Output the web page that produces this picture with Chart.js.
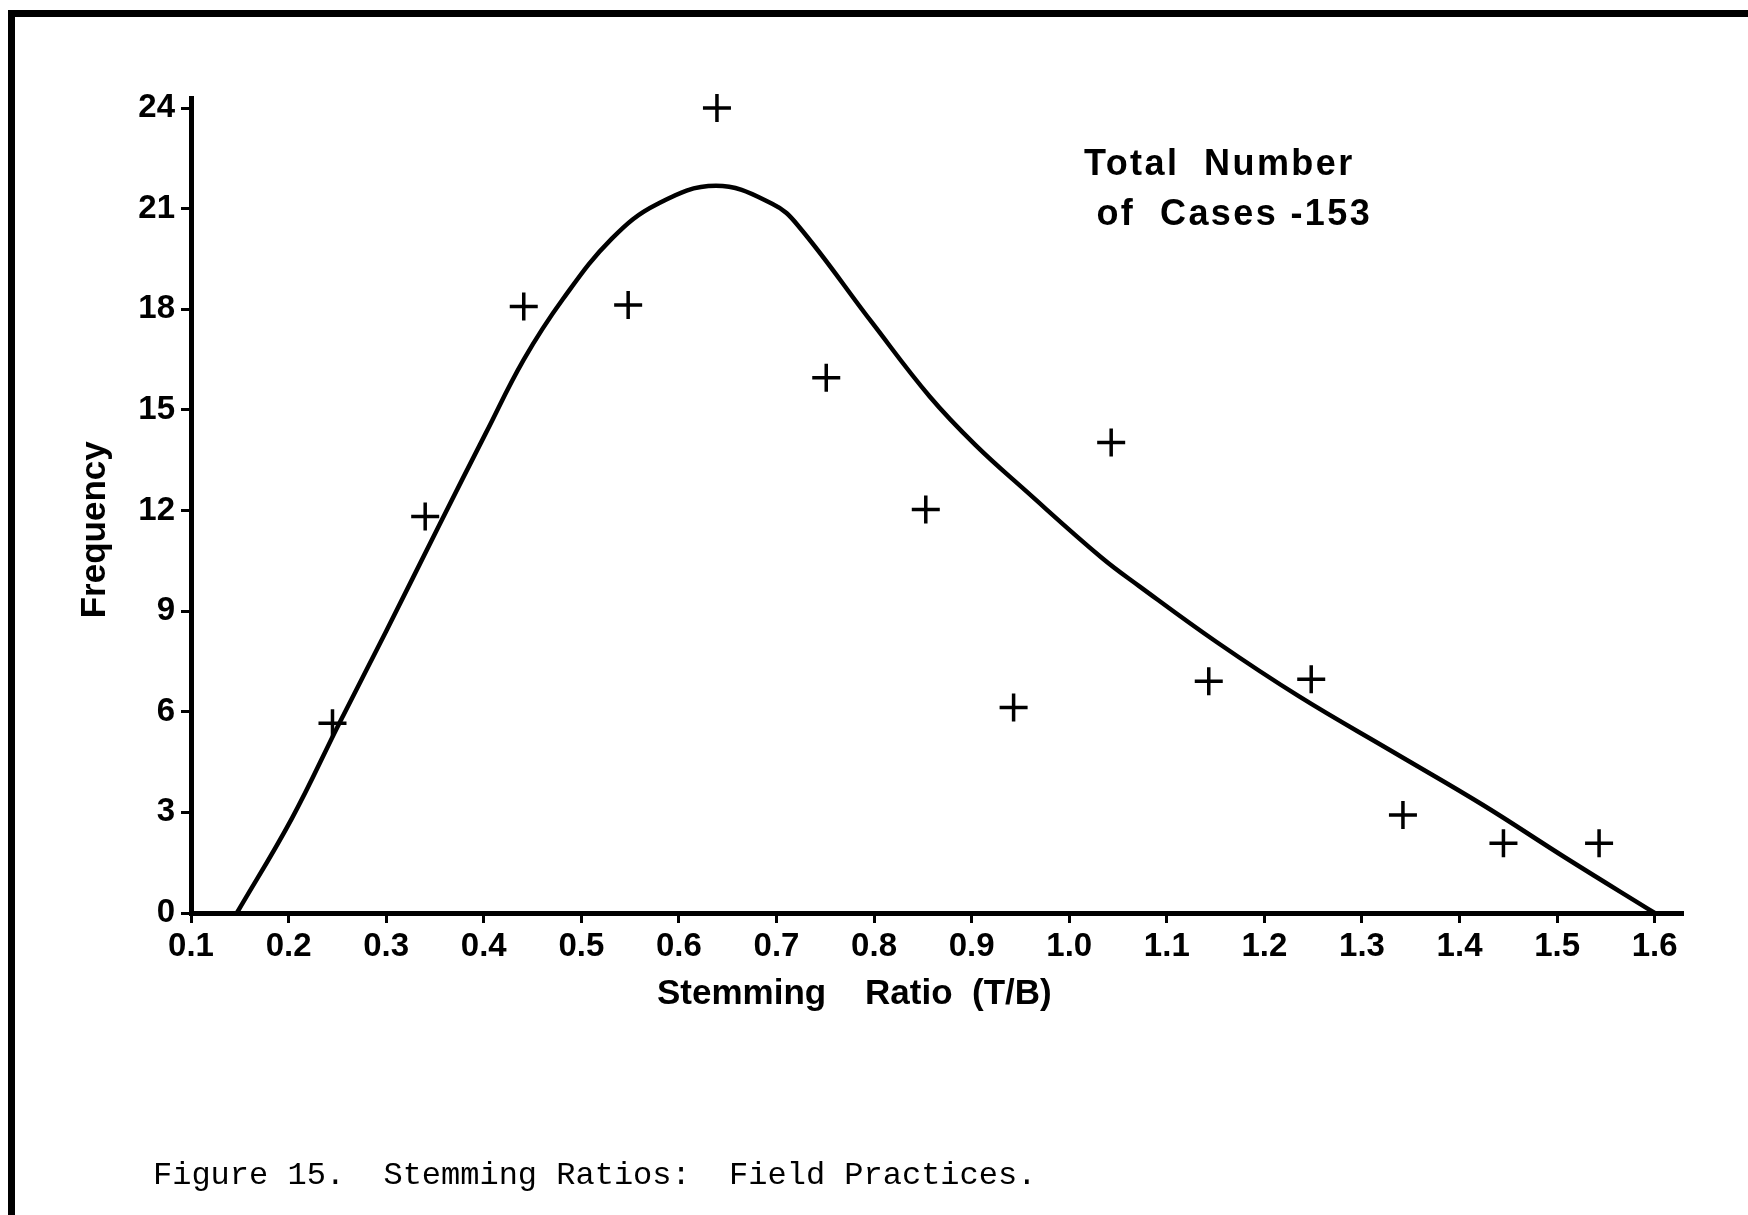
<!DOCTYPE html>
<html>
<head>
<meta charset="utf-8">
<title>Figure 15. Stemming Ratios: Field Practices.</title>
<script src="https://cdn.jsdelivr.net/npm/chart.js@4.4.1/dist/chart.umd.min.js"></script>
<style>
    html, body { margin: 0; padding: 0; background: #fff; }
    #page { position: relative; width: 1748px; height: 1215px; overflow: hidden; background: #fff; }
    #frame { position: absolute; left: 8px; top: 10px; right: -20px; bottom: -20px; border-left: 7px solid #000; border-top: 7px solid #000; }
    #chart { position: absolute; left: 0; top: 0; }
    #note { position: absolute; left: 1084px; top: 138px; font: bold 36px "Liberation Sans", Arial, sans-serif; line-height: 50px; letter-spacing: 2.4px; white-space: pre; color: #000; }
    #caption { position: absolute; left: 153px; top: 1156px; font: 32px "Liberation Mono", "DejaVu Sans Mono", monospace; line-height: 40px; white-space: pre; color: #000; }
</style>
</head>
<body>
<div id="page">
    <div id="frame"></div>
    <canvas id="chart" width="1748" height="1215"></canvas>
    <div id="note">Total  Number
 of  Cases -153</div>
    <div id="caption">Figure 15.  Stemming Ratios:  Field Practices.</div>
</div>
<script>
/**
 *  Data
 */
var ratio_points = [0.245, 0.340, 0.441, 0.548, 0.639, 0.751, 0.853, 0.943, 1.043, 1.143, 1.248, 1.342, 1.445, 1.543];
var frequency_points = [5.66, 11.82, 18.08, 18.13, 24.0, 15.96, 12.03, 6.13, 14.03, 6.91, 6.97, 2.92, 2.08, 2.08];

var curve_ratio = [0.147, 0.203, 0.252, 0.300, 0.355, 0.402, 0.441, 0.481, 0.531, 0.578, 0.638, 0.696, 0.722, 0.798, 0.857, 0.904, 0.955, 1.033, 1.072, 1.151, 1.236, 1.332, 1.424, 1.509, 1.600];
var curve_frequency = [0, 2.8, 5.66, 8.4, 11.6, 14.3, 16.5, 18.3, 20.1, 21.14, 21.68, 21.14, 20.5, 17.6, 15.4, 13.95, 12.6, 10.6, 9.74, 8.08, 6.45, 4.8, 3.22, 1.64, 0];

var x_ticks = [0.1, 0.2, 0.3, 0.4, 0.5, 0.6, 0.7, 0.8, 0.9, 1.0, 1.1, 1.2, 1.3, 1.4, 1.5, 1.6];
var y_ticks = [0, 3, 6, 9, 12, 15, 18, 21, 24];

/**
 *  Build chart
 */
var toXY = function (xs, ys) {
    return xs.map(function (x, i) {
        return { x: x, y: ys[i] };
    });
};

var keepTicks = function (list) {
    return function (scale) {
        scale.ticks = list.map(function (v) {
            return { value: v };
        });
    };
};

var tickFont = { family: "'Liberation Sans', Arial, sans-serif", size: 33, weight: 'bold' };
var titleFont = { family: "'Liberation Sans', Arial, sans-serif", size: 35, weight: 'bold' };

new Chart(document.getElementById("chart"), {
    type: "scatter",
    data: {
        datasets: [{
            label: "curve",
            data: toXY(curve_ratio, curve_frequency),
            showLine: true,
            borderColor: "#000",
            borderWidth: 4.5,
            pointRadius: 0,
            tension: 0.4,
            fill: false
        }, {
            label: "cases",
            data: toXY(ratio_points, frequency_points),
            pointStyle: "cross",
            pointRadius: 14,
            pointBorderWidth: 3.5,
            borderColor: "#000",
            backgroundColor: "#000",
            clip: false
        }]
    },
    options: {
        responsive: false,
        animation: false,
        events: [],
        layout: { padding: { left: 0, top: 98, right: 65, bottom: 200 } },
        plugins: {
            legend: { display: false },
            tooltip: { enabled: false }
        },
        scales: {
            x: {
                type: "linear",
                min: 0.1,
                max: 1.629,
                afterBuildTicks: keepTicks(x_ticks),
                afterFit: function (scale) { scale.height = 102; },
                border: { display: true, color: "#000", width: 5 },
                grid: { drawOnChartArea: false, drawTicks: true, tickLength: 10, tickWidth: 3, tickColor: "#000" },
                ticks: {
                    color: "#000",
                    font: tickFont,
                    padding: 4,
                    maxRotation: 0,
                    autoSkip: false,
                    callback: function (value) { return Number(value).toFixed(1); }
                },
                title: {
                    display: true,
                    text: "Stemming    Ratio  (T/B)                 ",
                    color: "#000",
                    font: titleFont,
                    padding: { top: 0, bottom: 0 }
                }
            },
            y: {
                type: "linear",
                min: 0,
                max: 24.3,
                afterBuildTicks: keepTicks(y_ticks),
                afterFit: function (scale) { scale.width = 191; },
                border: { display: true, color: "#000", width: 5 },
                grid: { drawOnChartArea: false, drawTicks: true, tickLength: 10, tickWidth: 3, tickColor: "#000" },
                ticks: {
                    color: "#000",
                    font: tickFont,
                    padding: 6,
                    autoSkip: false
                },
                title: {
                    display: true,
                    text: "Frequency     ",
                    color: "#000",
                    font: titleFont,
                    padding: { top: 74, bottom: 0 }
                }
            }
        }
    }
});
</script>
</body>
</html>
